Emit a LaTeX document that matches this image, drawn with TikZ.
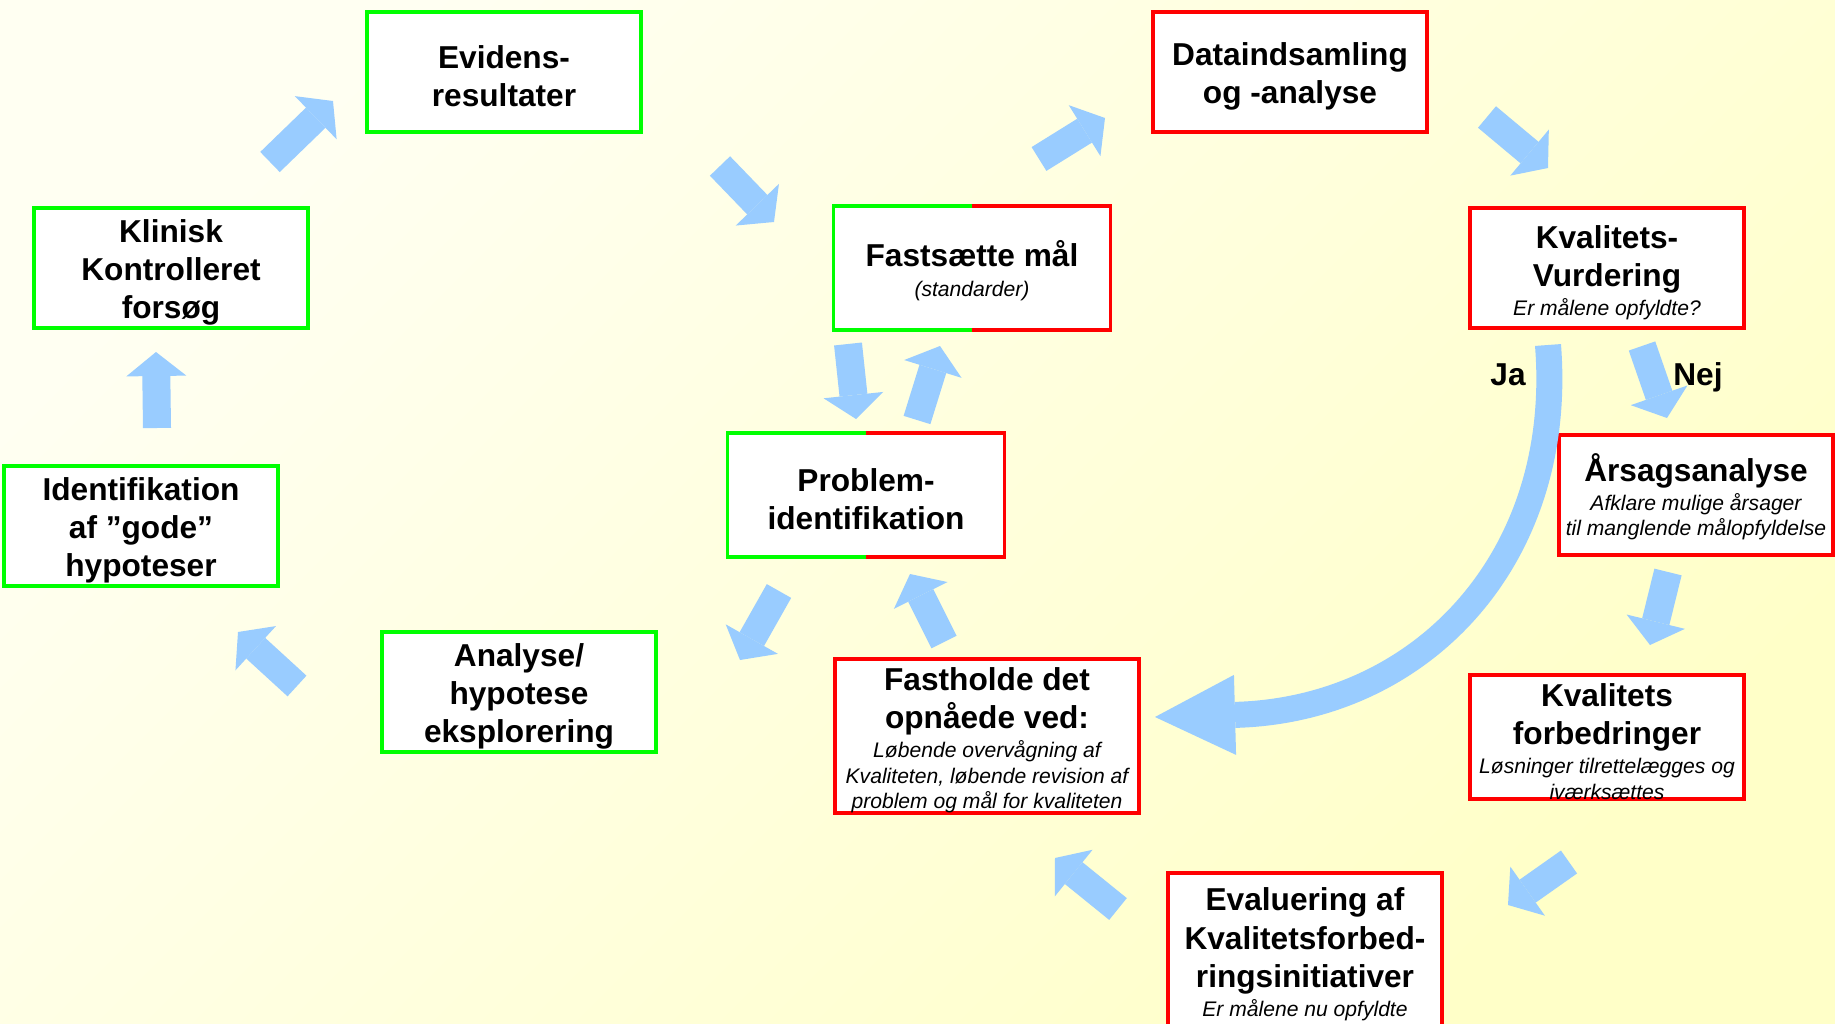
\documentclass[tikz,border=0pt]{standalone}
\usepackage{fontspec}
\setmainfont{Liberation Sans}
\usetikzlibrary{arrows.meta}

\definecolor{boxgreen}{RGB}{0,255,0}
\definecolor{boxred}{RGB}{255,0,0}
\definecolor{arrowblue}{RGB}{153,204,255}
\definecolor{bgpale}{RGB}{255,255,242}
\definecolor{bgyellow}{RGB}{255,255,200}

% small italic line under a heading
\newcommand{\subtxt}[1]{{\fontsize{6}{7.3}\selectfont\mdseries\itshape #1}}
% pushes the text block a little down in its box
\newcommand{\topstrut}{\rule{0pt}{9pt}}

\begin{document}
\begin{tikzpicture}[x=0.01cm, y=-0.01cm,
    gbox/.style={rectangle, draw=boxgreen, fill=white, line width=1.1pt,
      minimum width=2.73cm, minimum height=1.2cm, align=center, inner sep=0pt,
      font=\fontsize{9}{10.9}\selectfont\bfseries},
    rbox/.style={gbox, draw=boxred},
    mbox/.style={gbox, draw=none},
    blockarrow/.style={line width=0.28cm, draw=arrowblue,
      -{Triangle[width=0.6cm, length=0.24cm, line width=0pt]}},
    answer/.style={font=\fontsize{9}{10.9}\selectfont\bfseries}]

    \useasboundingbox (0,0) rectangle (1835,1024);
    \clip (0,0) rectangle (1835,1024);
    \shade[top color=bgpale, bottom color=bgyellow, shading angle=45]
      (0,0) rectangle (1835,1024);

    % left loop (green)
    \node[gbox] (evid) at (504,72) {\topstrut Evidens-\\resultater};
    \node[gbox] (klin) at (171,268) {\topstrut Klinisk\\Kontrolleret\\forsøg};
    \node[gbox] (iden) at (141,526) {\topstrut Identifikation\\af ”gode”\\hypoteser};
    \node[gbox] (anal) at (519,692) {\topstrut Analyse/\\hypotese\\eksplorering};

    % shared boxes
    \node[mbox] (fast) at (972,268)
      {\topstrut Fastsætte mål\\[-2.4pt]\subtxt{(standarder)}};
    \node[mbox] (prob) at (866,495) {\topstrut Problem-\\identifikation};

    \draw[boxgreen, line width=1.1pt] (fast.north) -| (fast.south west) -- (fast.south);
    \draw[boxred, line width=1.1pt] (fast.north) -| (fast.south east) -- (fast.south);
    \draw[boxgreen, line width=1.1pt] (prob.north) -| (prob.south west) -- (prob.south);
    \draw[boxred, line width=1.1pt] (prob.north) -| (prob.south east) -- (prob.south);

    % right loop (red)
    \node[rbox] (data) at (1290,72) {\topstrut Dataindsamling\\og -analyse};
    \node[rbox] (kvur) at (1607,268)
      {\topstrut Kvalitets-\\Vurdering\\[-2.7pt]\subtxt{Er målene opfyldte?}};
    \node[rbox] (aars) at (1696,495)
      {\topstrut Årsagsanalyse\\[-2.7pt]\subtxt{Afklare mulige årsager}\\[-3.6pt]%
       \subtxt{til manglende målopfyldelse}};
    \node[rbox, minimum height=1.22cm] (kfor) at (1607,737)
      {\topstrut Kvalitets\\forbedringer\\[-2.7pt]\subtxt{Løsninger tilrettelægges og}\\[-3.6pt]%
       \subtxt{iværksættes}};
    \node[rbox, minimum height=1.54cm] (eval) at (1305,950)
      {\topstrut Evaluering af\\Kvalitetsforbed-\\ringsinitiativer\\[-2.7pt]%
       \subtxt{Er målene nu opfyldte}};
    \node[rbox, minimum width=3.03cm, minimum height=1.51cm] (fasth) at (987,736)
      {\topstrut Fastholde det\\opnåede ved:\\[-2.7pt]\subtxt{Løbende overvågning af}\\[-3.6pt]%
       \subtxt{Kvaliteten, løbende revision af}\\[-3.6pt]%
       \subtxt{problem og mål for kvaliteten}};

    \node[answer] (ja) at (1508,375) {Ja};
    \node[answer] (nej) at (1698,377) {Nej};

    % arrow ends
    \coordinate (idenout) at (157,428);  \coordinate (klinin) at (156,352);
    \coordinate (klinout) at (270,162);  \coordinate (evidin) at (333,101);
    \coordinate (evidout) at (720,166);  \coordinate (fastin) at (774,222);
    \coordinate (fastout) at (1039,159); \coordinate (datain) at (1105,118);
    \coordinate (dataout) at (1487,117); \coordinate (kvurin) at (1548,168);
    \coordinate (fastdown) at (848,344); \coordinate (probin) at (856,419);
    \coordinate (probup) at (917,420);   \coordinate (fastup) at (940,346);
    \coordinate (probout) at (779,591);  \coordinate (analin) at (740,660);
    \coordinate (fasthout) at (944,642); \coordinate (probback) at (910,574);
    \coordinate (analout) at (297,686);  \coordinate (idenin) at (238,632);
    \coordinate (kvurnej) at (1642,346); \coordinate (aarsin) at (1667,418);
    \coordinate (aarsout) at (1668,572); \coordinate (kforin) at (1650,645);
    \coordinate (kforout) at (1569,862); \coordinate (evalin) at (1508,905);
    \coordinate (evalout) at (1118,909); \coordinate (fasthin) at (1055,858);
    \coordinate (kvurja) at (1548,345);  \coordinate (fasthja) at (1155,717);

    \draw[blockarrow] (idenout) -- (klinin);
    \draw[blockarrow] (klinout) -- (evidin);
    \draw[blockarrow] (evidout) -- (fastin);
    \draw[blockarrow] (fastout) -- (datain);
    \draw[blockarrow] (dataout) -- (kvurin);
    \draw[blockarrow] (fastdown) -- (probin);
    \draw[blockarrow] (probup) -- (fastup);
    \draw[blockarrow] (probout) -- (analin);
    \draw[blockarrow] (fasthout) -- (probback);
    \draw[blockarrow] (analout) -- (idenin);
    \draw[blockarrow] (kvurnej) -- (aarsin);
    \draw[blockarrow] (aarsout) -- (kforin);
    \draw[blockarrow] (kforout) -- (evalin);
    \draw[blockarrow] (evalout) -- (fasthin);

    % "Ja" goes back to Fastholde
    \draw[line width=0.26cm, draw=arrowblue,
      -{Triangle[width=0.8cm, length=0.8cm, line width=0pt]}]
      (kvurja) .. controls (1565,560) and (1420,710) .. (fasthja);
\end{tikzpicture}
\end{document}
